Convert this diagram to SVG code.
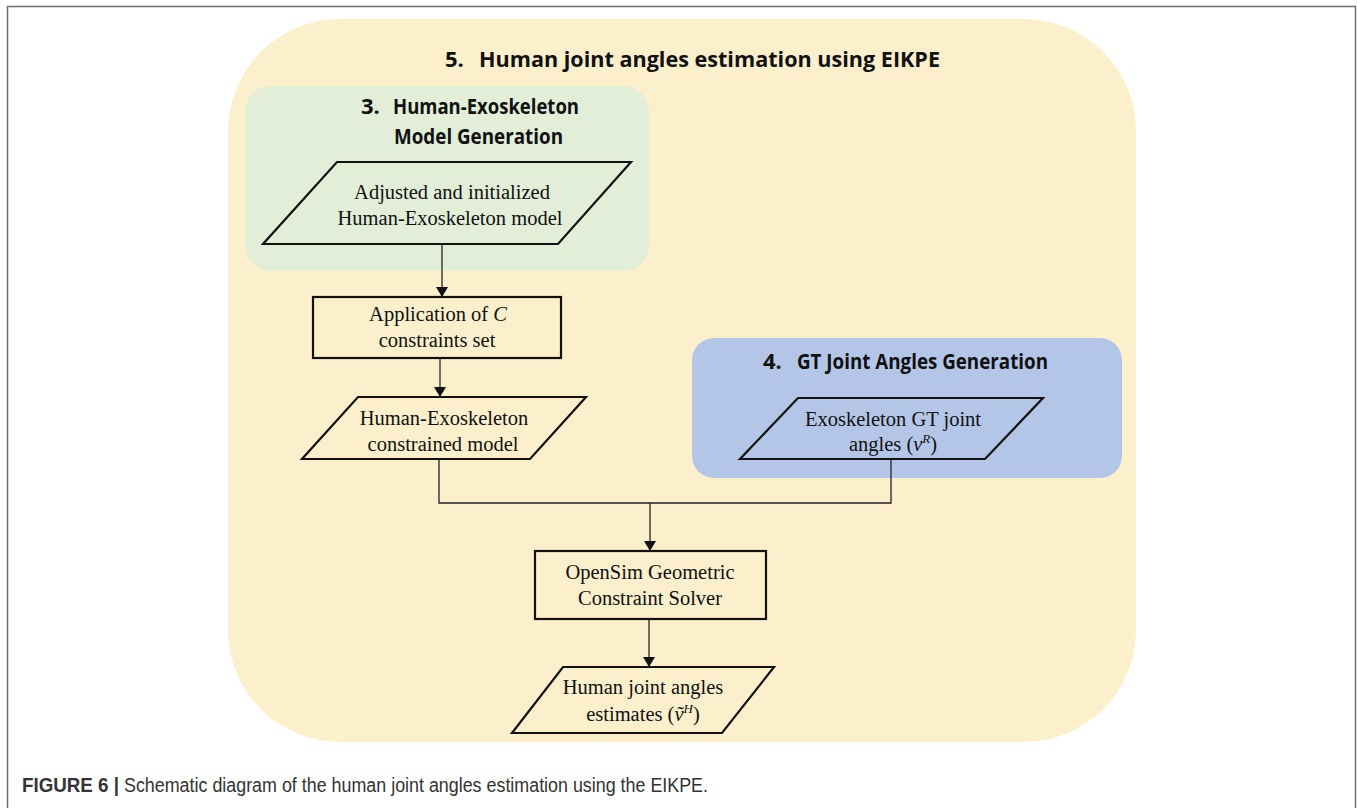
<svg xmlns="http://www.w3.org/2000/svg" width="1357" height="808" viewBox="0 0 1357 808">
  <style>
    .frame { fill: #ffffff; stroke: #6e6e6e; stroke-width: 1.5; }
    .outer { fill: #fcefcc; }
    .green { fill: #e2eed8; }
    .blue { fill: #b4c6e7; }
    .shape { fill: none; stroke: #111111; stroke-width: 2.2; stroke-linejoin: miter; }
    .head { font-family: "Open Sans", "Noto Sans", "Liberation Sans", sans-serif; font-weight: bold; font-size: 22px; fill: #111111; }
    .body { font-family: "Liberation Serif", "Times New Roman", serif; font-size: 20.5px; fill: #111111; text-anchor: middle; }
    .link { fill: none; stroke: #222222; stroke-width: 1.3; }
    .cap { font-family: "Liberation Sans", Arial, sans-serif; font-size: 20px; fill: #333333; }
  </style>
  <defs>
    <marker id="arrow" viewBox="0 0 10 12" refX="10" refY="6" markerWidth="10" markerHeight="12" markerUnits="userSpaceOnUse" orient="auto">
      <path d="M0,0 L10,6 L0,12 Z" fill="#111111"/>
    </marker>
  </defs>

  <!-- page frame -->
  <path class="frame" d="M7.5,820 L7.5,6.5 L1355.5,6.5 L1355.5,820"/>

  <!-- outer stage: joint angle estimation -->
  <g id="stage5">
    <rect class="outer" x="228" y="19" width="908" height="723" rx="112" ry="112"/>
    <text class="head" x="445" y="67">5.</text>
    <text class="head" x="479" y="67" textLength="461" lengthAdjust="spacingAndGlyphs">Human joint angles estimation using EIKPE</text>
  </g>

  <!-- stage 3: model generation -->
  <g id="stage3">
    <rect class="green" x="245" y="86" width="404" height="185" rx="26" ry="26"/>
    <text class="head" x="361" y="114">3.</text>
    <text class="head" x="393" y="114" textLength="186" lengthAdjust="spacingAndGlyphs">Human-Exoskeleton</text>
    <text class="head" x="394" y="144" textLength="169" lengthAdjust="spacingAndGlyphs">Model Generation</text>
  </g>

  <!-- stage 4: ground-truth joint angles -->
  <g id="stage4">
    <rect class="blue" x="692" y="338" width="430" height="140" rx="22" ry="22"/>
    <text class="head" x="763" y="369">4.</text>
    <text class="head" x="797" y="369" textLength="251" lengthAdjust="spacingAndGlyphs">GT Joint Angles Generation</text>
  </g>

  <g id="model-input">
    <polygon class="shape" points="337,162 631,162 558,244 263,244"/>
    <text class="body" x="452" y="199">Adjusted and initialized</text>
    <text class="body" x="450" y="225">Human-Exoskeleton model</text>
  </g>

  <g id="constraints">
    <rect class="shape" x="313" y="297" width="248" height="61"/>
    <text class="body" x="438" y="321">Application of <tspan font-style="italic">C</tspan></text>
    <text class="body" x="437" y="347">constraints set</text>
  </g>

  <g id="constrained-model">
    <polygon class="shape" points="358,397 586,397 530,459 302,459"/>
    <text class="body" x="444" y="425">Human-Exoskeleton</text>
    <text class="body" x="443" y="451">constrained model</text>
  </g>

  <g id="gt-angles">
    <polygon class="shape" points="798,398 1043,398 985,459 740,459"/>
    <text class="body" x="893" y="426">Exoskeleton GT joint</text>
    <text class="body" x="893" y="451">angles (<tspan font-style="italic">v</tspan><tspan font-style="italic" font-size="13" dy="-8">R</tspan><tspan dy="8">)</tspan></text>
  </g>

  <g id="solver">
    <rect class="shape" x="535" y="551" width="231" height="68"/>
    <text class="body" x="650" y="579">OpenSim Geometric</text>
    <text class="body" x="650" y="605">Constraint Solver</text>
  </g>

  <g id="estimates">
    <polygon class="shape" points="563,667 774,667 722,733 512,733"/>
    <text class="body" x="643" y="694">Human joint angles</text>
    <text class="body" x="643" y="721">estimates (<tspan font-style="italic">ṽ</tspan><tspan font-style="italic" font-size="13" dy="-8">H</tspan><tspan dy="8">)</tspan></text>
  </g>

  <!-- connectors -->
  <g id="connectors">
    <line class="link" x1="442" y1="244" x2="442" y2="297" marker-end="url(#arrow)"/>
    <line class="link" x1="440" y1="358" x2="440" y2="397" marker-end="url(#arrow)"/>
    <polyline class="link" points="439,459 439,503 891,503 891,459"/>
    <line class="link" x1="650" y1="503" x2="650" y2="551" marker-end="url(#arrow)"/>
    <line class="link" x1="649" y1="619" x2="649" y2="667" marker-end="url(#arrow)"/>
  </g>

  <!-- caption -->
  <text class="cap" x="22" y="792" font-weight="bold" fill="#222222" textLength="97" lengthAdjust="spacingAndGlyphs">FIGURE 6 |</text>
  <text class="cap" x="124" y="792" textLength="584" lengthAdjust="spacingAndGlyphs">Schematic diagram of the human joint angles estimation using the EIKPE.</text>
</svg>
